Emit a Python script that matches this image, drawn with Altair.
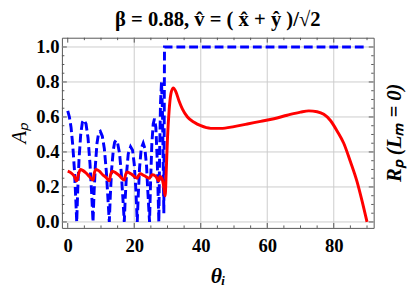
import altair as alt
import pandas as pd

# ---------------- data ----------------
blue_theta = [0, 0.5, 1, 1.5, 2, 2.4, 2.7,
              3.0, 3.4, 3.9, 4.4, 4.9, 5.5, 6.1, 6.7, 7.2, 7.6,
              7.9, 8.3, 8.8, 9.3, 9.8, 10.4, 11.0, 11.6, 12.1, 12.5,
              12.8, 13.2, 13.7, 14.1, 14.5, 15.0, 15.6, 16.1, 16.6, 17.0,
              17.3, 17.7, 18.2, 18.9, 19.5, 20.0, 20.5, 20.9,
              21.2, 21.6, 22.1, 22.7, 23.2, 23.7, 24.1, 24.6,
              24.9, 25.3, 25.7, 26.1, 26.5, 26.9, 27.4,
              27.6, 27.9, 28.2, 28.5, 28.9,
              29.1, 90]
blue_val = [0.635, 0.60, 0.54, 0.44, 0.30, 0.14, 0.0,
            0.18, 0.36, 0.50, 0.57, 0.583, 0.56, 0.48, 0.33, 0.16, 0.0,
            0.16, 0.32, 0.45, 0.51, 0.518, 0.49, 0.42, 0.29, 0.13, 0.0,
            0.15, 0.30, 0.41, 0.455, 0.467, 0.45, 0.39, 0.28, 0.13, 0.0,
            0.14, 0.28, 0.39, 0.43, 0.41, 0.33, 0.18, 0.0,
            0.15, 0.31, 0.42, 0.45, 0.42, 0.32, 0.17, 0.0,
            0.22, 0.45, 0.56, 0.59, 0.54, 0.36, 0.0,
            0.35, 0.68, 0.80, 0.62, 0.05,
            1.0, 1.0]

red_theta = [0, 1, 2, 2.7, 3.2, 3.8, 4.5, 5.5, 6.5, 7.6,
             8.0, 8.5, 9.5, 10.5, 11.5, 12.5,
             12.9, 13.4, 14.5, 15.5, 17.0,
             17.4, 17.9, 19.0, 20.0, 20.9,
             21.3, 21.8, 23.0, 24.6,
             24.9, 25.5, 26.5, 27.4, 27.7, 28.3, 28.9, 29.3,
             29.6, 30.0, 30.5, 31.0, 31.7, 32.5, 33.5, 34.5, 36, 38, 40,
             43, 46, 50, 54, 58, 62, 66, 70, 72.5, 75, 77, 79, 81, 83, 85,
             87, 88.5, 90]
red_val = [0.29, 0.28, 0.26, 0.235, 0.27, 0.30, 0.295, 0.28, 0.26, 0.24,
           0.28, 0.30, 0.29, 0.27, 0.255, 0.235,
           0.27, 0.29, 0.28, 0.265, 0.24,
           0.27, 0.285, 0.275, 0.26, 0.25,
           0.265, 0.275, 0.265, 0.25,
           0.26, 0.27, 0.26, 0.235, 0.26, 0.25, 0.20, 0.15,
           0.28, 0.48, 0.64, 0.73, 0.766, 0.745, 0.69, 0.645, 0.60, 0.57, 0.55,
           0.535, 0.535, 0.545, 0.56, 0.575, 0.59, 0.61, 0.628, 0.635, 0.63,
           0.615, 0.58, 0.52, 0.45, 0.345, 0.23, 0.12, 0.0]

x_major = [0, 20, 40, 60, 80]
x_minor = [5, 10, 15, 25, 30, 35, 45, 50, 55, 65, 70, 75, 85, 90]
x_grid = [20, 40, 60, 80]
y_major = [0.0, 0.2, 0.4, 0.6, 0.8, 1.0]
y_minor = [0.05, 0.1, 0.15, 0.25, 0.3, 0.35, 0.45, 0.5, 0.55, 0.65, 0.7,
           0.75, 0.85, 0.9, 0.95]
y_grid = [0.0, 0.2, 0.4, 0.6, 0.8, 1.0]

title_text = "β = 0.88,  v̂ = ( x̂ + ŷ )/√2"
x_title = "θᵢ"
y_title = "Aₚ"
right_label = ["Rₚ (Lₘ = 0)"]

# ---------------- layout ----------------
W, H = 318, 194
FONT = "Liberation Serif"
FRAME = "#555555"

xs = alt.Scale(domain=[-1.75, 92], nice=False, zero=False)
ys = alt.Scale(domain=[-0.034, 1.053], nice=False, zero=False)

blue_df = pd.DataFrame({"theta": blue_theta, "val": blue_val})
red_df = pd.DataFrame({"theta": red_theta, "val": red_val})

xaxis = alt.Axis(values=x_major, grid=False, ticks=False, domain=False,
                 labelFont=FONT, labelFontSize=19, labelFontWeight="bold",
                 labelColor="black", labelPadding=9, format="d",
                 title=x_title, titleFont=FONT, titleFontSize=22,
                 titleFontStyle="italic", titleFontWeight="bold",
                 titleColor="black", titlePadding=11)
yaxis = alt.Axis(values=y_major, grid=False, ticks=False, domain=False,
                 labelFont=FONT, labelFontSize=19, labelFontWeight="bold",
                 labelColor="black", labelPadding=3, format=".1f",
                 title=y_title, titleFont=FONT, titleFontSize=21,
                 titleFontStyle="italic", titleFontWeight="normal",
                 titleColor="black", titlePadding=6)


def X(field):
    return alt.X(field, scale=xs, axis=xaxis)


def Y(field):
    return alt.Y(field, scale=ys, axis=yaxis)


gx = alt.Chart(pd.DataFrame({"g": x_grid})).mark_rule(
    color="#cccccc", strokeWidth=1).encode(x=X("g:Q"))
gy = alt.Chart(pd.DataFrame({"g": y_grid})).mark_rule(
    color="#cccccc", strokeWidth=1).encode(y=Y("g:Q"))


def xticks(vals, ln):
    d = pd.DataFrame({"t": vals})
    b = alt.Chart(d).mark_rule(color=FRAME, strokeWidth=1).encode(
        x=X("t:Q"), y=alt.value(H), y2=alt.value(H - ln))
    t = alt.Chart(d).mark_rule(color=FRAME, strokeWidth=1).encode(
        x=X("t:Q"), y=alt.value(0), y2=alt.value(ln))
    return [b, t]


def yticks(vals, ln):
    d = pd.DataFrame({"t": vals})
    l = alt.Chart(d).mark_rule(color=FRAME, strokeWidth=1).encode(
        y=Y("t:Q"), x=alt.value(0), x2=alt.value(ln))
    r = alt.Chart(d).mark_rule(color=FRAME, strokeWidth=1).encode(
        y=Y("t:Q"), x=alt.value(W), x2=alt.value(W - ln))
    return [l, r]


blue = alt.Chart(blue_df).mark_line(
    color="#0000ff", strokeWidth=3, strokeDash=[9, 4], clip=True).encode(
    x=X("theta:Q"), y=Y("val:Q"), order="theta:Q")

red = alt.Chart(red_df).mark_line(
    color="#ff0000", strokeWidth=3, interpolate="monotone", clip=True).encode(
    x=X("theta:Q"), y=Y("val:Q"), order="theta:Q")

rlab = alt.Chart(pd.DataFrame({"t": right_label})).mark_text(
    angle=270, font=FONT, fontSize=21, fontStyle="italic", fontWeight="bold",
    color="black").encode(text="t:N", x=alt.value(W + 22), y=alt.value(H / 2))

layers = [gx, gy] + xticks(x_major, 5) + xticks(x_minor, 2.5) + \
    yticks(y_major, 5) + yticks(y_minor, 2.5) + [blue, red, rlab]

chart = alt.layer(*layers).properties(
    width=W, height=H,
    autosize=alt.AutoSizeParams(type="none"),
    padding={"left": 55, "top": 27.5, "right": 34, "bottom": 59},
    title=alt.TitleParams(title_text, font=FONT, fontSize=21,
                          fontWeight="bold", color="black",
                          anchor="middle", offset=7),
).configure_view(stroke=FRAME, strokeWidth=1)

chart.save("out.html", embed_options={"renderer": "svg", "actions": False})
